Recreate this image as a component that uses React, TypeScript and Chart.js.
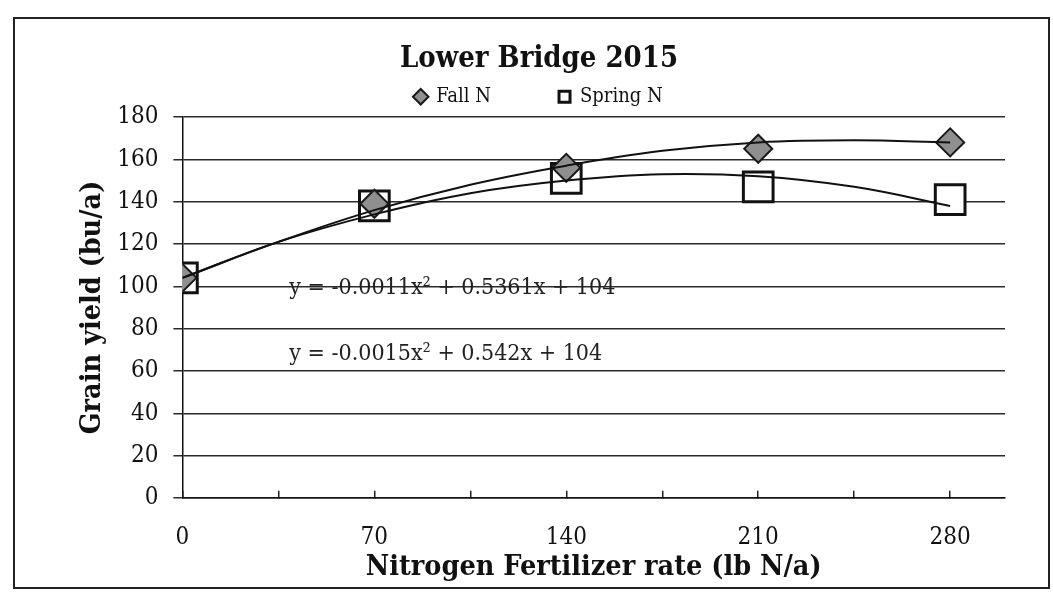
import React, { useEffect, useRef } from 'react';
import { Chart, registerables } from 'chart.js';

Chart.register(...registerables);

// ---- data ----
const nitrogenRates = [0, 70, 140, 210, 280];
const fallYield = [104, 139, 156, 165, 168];
const springYield = [104, 138, 151, 147, 141];

// trend curves
const trendRates = [0, 35, 70, 105, 140, 175, 210, 245, 280];
const fallTrend = [104, 121, 136, 148, 157, 164, 168, 169, 168];
const springTrend = [104, 121, 134, 144, 150, 153, 152, 147, 138];

// axis ticks
const xTickValues = [0, 35, 70, 105, 140, 175, 210, 245, 280];
const xTickLabels = ['0', '70', '140', '210', '280'];
const yTickStep = 20;

const fallEquation = 'y = -0.0011x\u00B2 + 0.5361x + 104';
const springEquation = 'y = -0.0015x\u00B2 + 0.542x + 104';

const FAMILY = "'DejaVu Serif Condensed', 'DejaVu Serif', serif";

const equationPlugin = {
  id: 'equationLabels',
  afterDatasetsDraw(chart: any) {
    const { ctx, scales } = chart;
    const x = scales.x;
    const y = scales.y;
    ctx.save();
    ctx.font = `23px ${FAMILY}`;
    ctx.fillStyle = '#222';
    ctx.textAlign = 'left';
    ctx.textBaseline = 'middle';
    ctx.fillText(fallEquation, x.getPixelForValue(39), y.getPixelForValue(99));
    ctx.fillText(springEquation, x.getPixelForValue(39), y.getPixelForValue(68));
    ctx.restore();
  },
};

export default function App() {
  const canvasRef = useRef<HTMLCanvasElement | null>(null);

  useEffect(() => {
    if (!canvasRef.current) return;
    const toXY = (xs: number[], ys: number[]) => xs.map((x, i) => ({ x, y: ys[i] }));
    const chart = new Chart(canvasRef.current, {
      type: 'scatter',
      data: {
        datasets: [
          {
            label: 'Fall trend',
            data: toXY(trendRates, fallTrend),
            showLine: true,
            borderColor: '#111',
            borderWidth: 2,
            pointRadius: 0,
            tension: 0.4,
            fill: false,
          },
          {
            label: 'Spring trend',
            data: toXY(trendRates, springTrend),
            showLine: true,
            borderColor: '#111',
            borderWidth: 2,
            pointRadius: 0,
            tension: 0.4,
            fill: false,
          },
          {
            label: 'Fall N',
            data: toXY(nitrogenRates, fallYield),
            showLine: false,
            pointStyle: 'rectRot',
            pointRadius: 14,
            pointBackgroundColor: '#8f8f8f',
            pointBorderColor: '#1a1a1a',
            pointBorderWidth: 2,
            backgroundColor: '#8f8f8f',
            borderColor: '#1a1a1a',
            borderWidth: 2,
          },
          {
            label: 'Spring N',
            data: toXY(nitrogenRates, springYield),
            showLine: false,
            pointStyle: 'rect',
            pointRadius: 21,
            pointBackgroundColor: '#ffffff',
            pointBorderColor: '#111',
            pointBorderWidth: 3,
            backgroundColor: '#ffffff',
            borderColor: '#111',
            borderWidth: 3,
          },
        ],
      },
      options: {
        animation: false,
        responsive: true,
        maintainAspectRatio: false,
        events: [],
        layout: { padding: { left: 58, right: 43, top: 0, bottom: 0 } },
        plugins: {
          tooltip: { enabled: false },
          title: {
            display: true,
            text: 'Lower Bridge 2015',
            color: '#111',
            font: { size: 29, weight: 'bold', family: FAMILY },
            padding: { top: 23, bottom: -58 },
          },
          legend: {
            display: true,
            position: 'top',
            align: 'center',
            labels: {
              usePointStyle: true,
              boxWidth: 11,
              boxHeight: 11,
              padding: 68,
              color: '#111',
              font: { size: 20, family: FAMILY },
              filter: (item: any) => item.datasetIndex >= 2,
            },
          },
        },
        scales: {
          x: {
            type: 'linear',
            min: 0,
            max: 300,
            afterBuildTicks: (scale: any) => {
              scale.ticks = xTickValues.map((v) => ({ value: v }));
            },
            ticks: {
              autoSkip: false,
              maxRotation: 0,
              padding: 33,
              color: '#111',
              font: { size: 24, family: FAMILY },
              callback: (value: any) => {
                const idx = nitrogenRates.indexOf(Number(value));
                return idx >= 0 ? xTickLabels[idx] : '';
              },
            },
            grid: {
              drawOnChartArea: false,
              drawTicks: true,
              tickLength: -7,
              color: '#222',
              lineWidth: 1.5,
            },
            border: { display: true, color: '#111', width: 1.5 },
            title: {
              display: true,
              text: 'Nitrogen Fertilizer rate (lb N/a)',
              color: '#111',
              font: { size: 28.5, weight: 'bold', family: FAMILY },
              padding: { top: -35, bottom: 2 },
            },
          },
          y: {
            type: 'linear',
            min: 0,
            max: 180,
            ticks: {
              stepSize: yTickStep,
              padding: 15,
              color: '#111',
              font: { size: 24, family: FAMILY },
            },
            grid: {
              drawOnChartArea: true,
              drawTicks: true,
              tickLength: 9,
              color: '#2a2a2a',
              lineWidth: 1.5,
            },
            border: { display: true, color: '#111', width: 1.5 },
            title: {
              display: true,
              text: 'Grain yield (bu/a)',
              color: '#111',
              font: { size: 28.5, weight: 'bold', family: FAMILY },
              padding: { top: 2, bottom: -7 },
            },
          },
        },
      },
      plugins: [equationPlugin],
    } as any);
    return () => chart.destroy();
  }, []);

  return (
    <div
      style={{
        position: 'absolute',
        left: 13,
        top: 17,
        width: 1037,
        height: 572,
        border: '2px solid #222',
        boxSizing: 'border-box',
        background: '#fff',
      }}
    >
      <div style={{ position: 'relative', width: '100%', height: '100%' }}>
        <canvas ref={canvasRef} />
      </div>
    </div>
  );
}
